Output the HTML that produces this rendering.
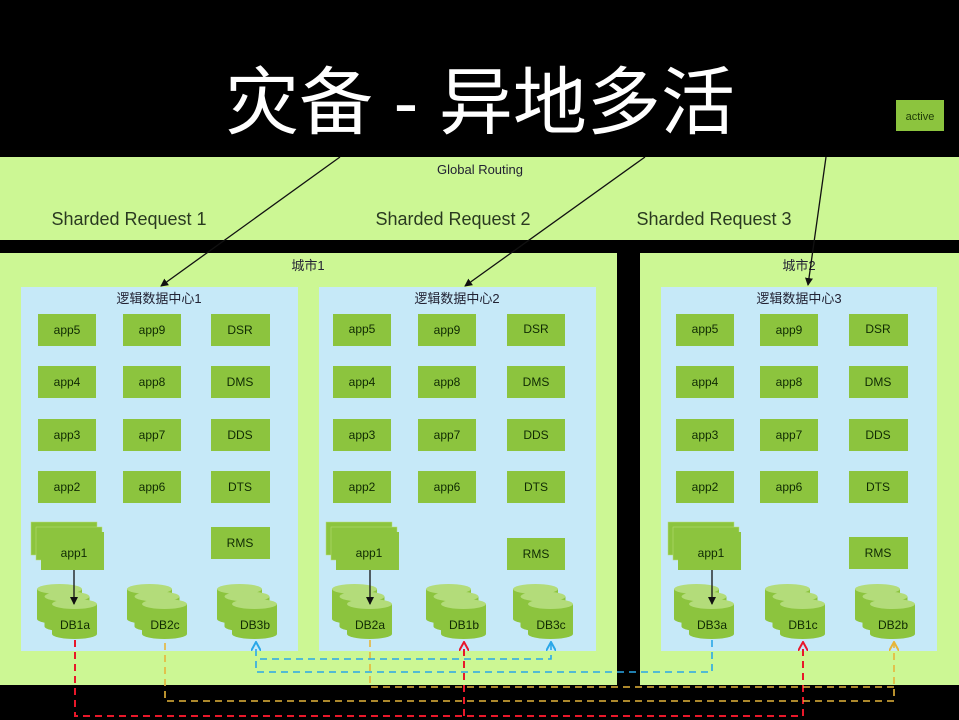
<!DOCTYPE html>
<html><head><meta charset="utf-8"><style>
html,body{margin:0;padding:0;background:#000;}
svg{display:block;}
text{font-family:"Liberation Sans","Noto Sans CJK SC",sans-serif;}
.b{fill:#8cc43e;}
.t{font-size:12px;fill:#0f2a03;text-anchor:middle;}
</style></head><body>
<svg width="959" height="720" viewBox="0 0 959 720" xmlns="http://www.w3.org/2000/svg">
<defs>
<marker id="ak" markerWidth="8" markerHeight="8" refX="7" refY="4" orient="auto" markerUnits="userSpaceOnUse"><path d="M0,0 L8,4 L0,8 z" fill="#111"/></marker>
<marker id="ar" markerWidth="10" markerHeight="10" refX="8" refY="5" orient="auto" markerUnits="userSpaceOnUse"><path d="M0,0 L9,5 L0,10" fill="none" stroke="#e8182a" stroke-width="2"/></marker>
<marker id="ay" markerWidth="10" markerHeight="10" refX="8" refY="5" orient="auto" markerUnits="userSpaceOnUse"><path d="M0,0 L9,5 L0,10" fill="none" stroke="#e6b53a" stroke-width="2"/></marker>
<marker id="ab" markerWidth="10" markerHeight="10" refX="8" refY="5" orient="auto" markerUnits="userSpaceOnUse"><path d="M0,0 L9,5 L0,10" fill="none" stroke="#2aa7e8" stroke-width="2"/></marker>
<g id="cyl">
<rect x="0" y="0" width="45" height="30" fill="#8cc43e"/>
<ellipse cx="22.5" cy="30" rx="22.5" ry="5" fill="#8cc43e"/>
<ellipse cx="22.5" cy="0" rx="22.5" ry="5" fill="#b3dc7a"/>
</g>
<g id="db">
<use href="#cyl" x="-15" y="-15"/>
<use href="#cyl" x="-7.5" y="-7.5"/>
<use href="#cyl" x="0" y="0"/>
</g>
<g id="ap">
<rect x="0" y="0" width="66" height="33" fill="#8cc43e" stroke="#b9e07a" stroke-width="0.5"/>
<rect x="5" y="5" width="66" height="33" fill="#8cc43e" stroke="#b9e07a" stroke-width="0.5"/>
<rect x="10" y="10" width="63" height="38" fill="#8cc43e"/>
</g>
</defs>
<rect width="959" height="720" fill="#000"/>
<text x="480" y="128" font-size="74" fill="#fff" text-anchor="middle">灾备 - 异地多活</text>
<rect x="896" y="100" width="48" height="31" fill="#8cc43e"/>
<text x="920" y="120" font-size="11" fill="#1c3a05" text-anchor="middle">active</text>

<rect x="0" y="157" width="959" height="83" fill="#ccf794"/>
<text x="480" y="174" font-size="13" fill="#223" text-anchor="middle">Global Routing</text>
<text x="129" y="225" font-size="18" fill="#2a3a20" text-anchor="middle">Sharded Request 1</text>
<text x="453" y="225" font-size="18" fill="#2a3a20" text-anchor="middle">Sharded Request 2</text>
<text x="714" y="225" font-size="18" fill="#2a3a20" text-anchor="middle">Sharded Request 3</text>

<rect x="0" y="253" width="617" height="432" fill="#ccf794"/>
<rect x="640" y="253" width="319" height="432" fill="#ccf794"/>
<text x="308" y="270" font-size="13" fill="#223" text-anchor="middle">城市1</text>
<text x="799" y="270" font-size="13" fill="#223" text-anchor="middle">城市2</text>

<rect x="21" y="287" width="277" height="364" fill="#c6e9f8"/>
<rect x="319" y="287" width="277" height="364" fill="#c6e9f8"/>
<rect x="661" y="287" width="276" height="364" fill="#c6e9f8"/>
<text x="159" y="303" font-size="13" fill="#223" text-anchor="middle">逻辑数据中心1</text>
<text x="457" y="303" font-size="13" fill="#223" text-anchor="middle">逻辑数据中心2</text>
<text x="799" y="303" font-size="13" fill="#223" text-anchor="middle">逻辑数据中心3</text>

<g>
<rect class="b" x="38" y="314" width="58" height="32"/><text class="t" x="67" y="334">app5</text>
<rect class="b" x="123" y="314" width="58" height="32"/><text class="t" x="152" y="334">app9</text>
<rect class="b" x="211" y="314" width="59" height="32"/><text class="t" x="240" y="334">DSR</text>
<rect class="b" x="38" y="366" width="58" height="32"/><text class="t" x="67" y="386">app4</text>
<rect class="b" x="123" y="366" width="58" height="32"/><text class="t" x="152" y="386">app8</text>
<rect class="b" x="211" y="366" width="59" height="32"/><text class="t" x="240" y="386">DMS</text>
<rect class="b" x="38" y="419" width="58" height="32"/><text class="t" x="67" y="439">app3</text>
<rect class="b" x="123" y="419" width="58" height="32"/><text class="t" x="152" y="439">app7</text>
<rect class="b" x="211" y="419" width="59" height="32"/><text class="t" x="240" y="439">DDS</text>
<rect class="b" x="38" y="471" width="58" height="32"/><text class="t" x="67" y="491">app2</text>
<rect class="b" x="123" y="471" width="58" height="32"/><text class="t" x="152" y="491">app6</text>
<rect class="b" x="211" y="471" width="59" height="32"/><text class="t" x="240" y="491">DTS</text>
<rect class="b" x="211" y="527" width="59" height="32"/><text class="t" x="240" y="547">RMS</text>
<use href="#ap" x="31" y="522"/><text class="t" x="74" y="557">app1</text>
</g>
<g>
<rect class="b" x="333" y="314" width="58" height="32"/><text class="t" x="362" y="333">app5</text>
<rect class="b" x="418" y="314" width="58" height="32"/><text class="t" x="447" y="334">app9</text>
<rect class="b" x="507" y="314" width="58" height="32"/><text class="t" x="536" y="333">DSR</text>
<rect class="b" x="333" y="366" width="58" height="32"/><text class="t" x="362" y="386">app4</text>
<rect class="b" x="418" y="366" width="58" height="32"/><text class="t" x="447" y="386">app8</text>
<rect class="b" x="507" y="366" width="58" height="32"/><text class="t" x="536" y="386">DMS</text>
<rect class="b" x="333" y="419" width="58" height="32"/><text class="t" x="362" y="439">app3</text>
<rect class="b" x="418" y="419" width="58" height="32"/><text class="t" x="447" y="439">app7</text>
<rect class="b" x="507" y="419" width="58" height="32"/><text class="t" x="536" y="439">DDS</text>
<rect class="b" x="333" y="471" width="58" height="32"/><text class="t" x="362" y="491">app2</text>
<rect class="b" x="418" y="471" width="58" height="32"/><text class="t" x="447" y="491">app6</text>
<rect class="b" x="507" y="471" width="58" height="32"/><text class="t" x="536" y="491">DTS</text>
<rect class="b" x="507" y="538" width="58" height="32"/><text class="t" x="536" y="558">RMS</text>
<use href="#ap" x="326" y="522"/><text class="t" x="369" y="557">app1</text>
</g>
<g>
<rect class="b" x="676" y="314" width="58" height="32"/><text class="t" x="705" y="333">app5</text>
<rect class="b" x="760" y="314" width="58" height="32"/><text class="t" x="789" y="334">app9</text>
<rect class="b" x="849" y="314" width="59" height="32"/><text class="t" x="878" y="333">DSR</text>
<rect class="b" x="676" y="366" width="58" height="32"/><text class="t" x="705" y="386">app4</text>
<rect class="b" x="760" y="366" width="58" height="32"/><text class="t" x="789" y="386">app8</text>
<rect class="b" x="849" y="366" width="59" height="32"/><text class="t" x="878" y="386">DMS</text>
<rect class="b" x="676" y="419" width="58" height="32"/><text class="t" x="705" y="439">app3</text>
<rect class="b" x="760" y="419" width="58" height="32"/><text class="t" x="789" y="439">app7</text>
<rect class="b" x="849" y="419" width="59" height="32"/><text class="t" x="878" y="439">DDS</text>
<rect class="b" x="676" y="471" width="58" height="32"/><text class="t" x="705" y="491">app2</text>
<rect class="b" x="760" y="471" width="58" height="32"/><text class="t" x="789" y="491">app6</text>
<rect class="b" x="849" y="471" width="59" height="32"/><text class="t" x="878" y="491">DTS</text>
<rect class="b" x="849" y="537" width="59" height="32"/><text class="t" x="878" y="557">RMS</text>
<use href="#ap" x="668" y="522"/><text class="t" x="711" y="557">app1</text>
</g>

<use href="#db" x="52" y="604"/><text class="t" x="75" y="629">DB1a</text>
<use href="#db" x="142" y="604"/><text class="t" x="165" y="629">DB2c</text>
<use href="#db" x="232" y="604"/><text class="t" x="255" y="629">DB3b</text>
<use href="#db" x="347" y="604"/><text class="t" x="370" y="629">DB2a</text>
<use href="#db" x="441" y="604"/><text class="t" x="464" y="629">DB1b</text>
<use href="#db" x="528" y="604"/><text class="t" x="551" y="629">DB3c</text>
<use href="#db" x="689" y="604"/><text class="t" x="712" y="629">DB3a</text>
<use href="#db" x="780" y="604"/><text class="t" x="803" y="629">DB1c</text>
<use href="#db" x="870" y="604"/><text class="t" x="893" y="629">DB2b</text>

<g stroke="#111" stroke-width="1.3" fill="none">
<line x1="340" y1="157" x2="161" y2="286" marker-end="url(#ak)"/>
<line x1="645" y1="157" x2="465" y2="286" marker-end="url(#ak)"/>
<line x1="826" y1="157" x2="808" y2="285" marker-end="url(#ak)"/>
<line x1="74" y1="570" x2="74" y2="604" marker-end="url(#ak)"/>
<line x1="370" y1="570" x2="370" y2="604" marker-end="url(#ak)"/>
<line x1="712" y1="570" x2="712" y2="604" marker-end="url(#ak)"/>
</g>

<g fill="none" stroke-dasharray="7,5">
<path d="M75,640 V716 H803 V643" stroke="#e8182a" stroke-width="2" marker-end="url(#ar)"/>
<path d="M464,716 V643" stroke="#e8182a" stroke-width="2" marker-end="url(#ar)"/>
<path d="M370,640 V687 H894" stroke="#e6b53a" stroke-width="1.6"/>
<path d="M165,643 V701 H894 V643" stroke="#e6b53a" stroke-width="1.6" marker-end="url(#ay)"/>
<path d="M712,640 V672 H256 V643" stroke="#2aa7e8" stroke-width="1.6" marker-end="url(#ab)"/>
<path d="M260,659 H551 V643" stroke="#2aa7e8" stroke-width="1.6" marker-end="url(#ab)"/>
</g>
</svg>
</body></html>
